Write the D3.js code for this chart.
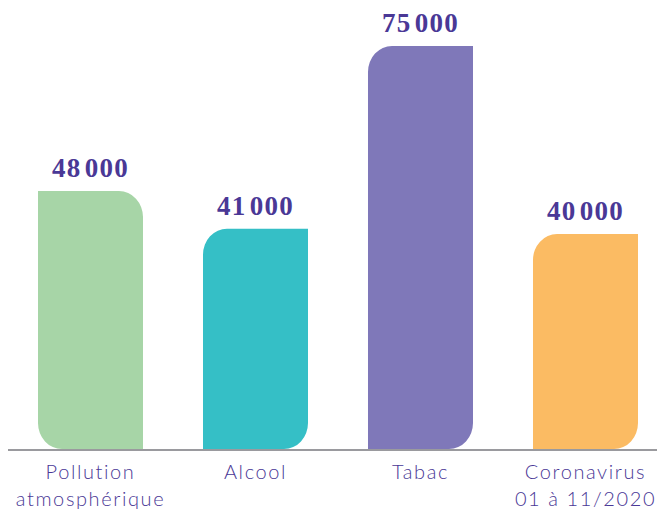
<!DOCTYPE html>
<html><head><meta charset="utf-8">
<script src="https://cdn.jsdelivr.net/npm/d3@7"></script>
<style>
html,body{margin:0;padding:0;background:#fff;}
svg{display:block;}
</style></head>
<body>
<script>
const categories = [["Pollution","atmosphérique"],["Alcool"],["Tabac"],["Coronavirus","01 à 11/2020"]];
const values = [48000, 41000, 75000, 40000];
const valueLabels = ["48\u200A000","41\u200A000","75\u200A000","40\u200A000"];
const colors = ["#a7d5a7","#35bfc6","#7f78b9","#fbbb63"];

const W = 657, H = 512;
const svg = d3.select("body").append("svg").attr("width", W).attr("height", H);

const x = d3.scaleBand().domain(d3.range(values.length)).range([-11.5, 687.5]).paddingInner(0.3636).paddingOuter(0.3);
const y = d3.scaleLinear().domain([0, 75000]).range([449, 46]);
const textColor = "#4a3896";

function barPath(i) {
  const x0 = x(i), x1 = x(i) + x.bandwidth();
  const t = y(values[i]), b = y(0);
  const rx = 24, ry = 26;
  if (i === 0) {
    return `M${x0},${t} L${x1-rx},${t} A${rx},${ry} 0 0 1 ${x1},${t+ry} L${x1},${b} L${x0+rx},${b} A${rx},${ry} 0 0 1 ${x0},${b-ry} Z`;
  }
  return `M${x0},${t+ry} A${rx},${ry} 0 0 1 ${x0+rx},${t} L${x1},${t} L${x1},${b-ry} A${rx},${ry} 0 0 1 ${x1-rx},${b} L${x0},${b} Z`;
}

svg.selectAll("path.bar").data(values).join("path")
  .attr("class","bar")
  .attr("d", (d,i) => barPath(i))
  .attr("fill", (d,i) => colors[i]);

svg.append("line").attr("x1", 8).attr("x2", W).attr("y1", 450).attr("y2", 450)
  .attr("stroke", "#9a9a9e").attr("stroke-width", 2);

svg.selectAll("text.val").data(values).join("text")
  .attr("class","val")
  .attr("x", (d,i) => x(i) + x.bandwidth()/2)
  .attr("y", d => y(d) - 14)
  .attr("text-anchor","middle")
  .attr("font-family","'Liberation Serif', serif")
  .attr("font-weight","bold")
  .attr("font-size", 27)
  .attr("letter-spacing", 1.2)
  .attr("fill", textColor)
  .text((d,i) => valueLabels[i]);

const cat = svg.selectAll("text.cat").data(categories).join("text")
  .attr("class","cat")
  .attr("x", (d,i) => x(i) + x.bandwidth()/2)
  .attr("y", 479)
  .attr("text-anchor","middle")
  .attr("font-family","Lato, sans-serif")
  .attr("font-weight", 300)
  .attr("font-size", 20)
  .attr("letter-spacing", 1.6)
  .attr("fill", textColor);
cat.selectAll("tspan").data(d => d).join("tspan")
  .attr("x", function(){ return this.parentNode.getAttribute("x"); })
  .attr("dy", (d,j) => j === 0 ? 0 : 27)
  .text(d => d);
</script>
</body></html>
